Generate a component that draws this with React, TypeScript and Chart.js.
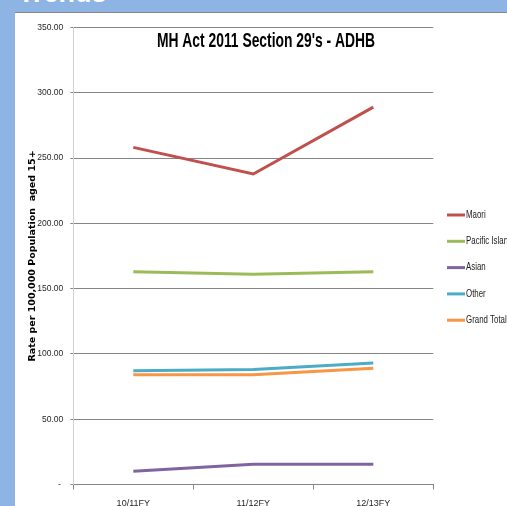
import React, { useEffect, useRef } from 'react';
import { Chart, registerables } from 'chart.js';

Chart.register(...registerables);

const categories = ['10/11FY', '11/12FY', '12/13FY'];
const seriesNames = ['Maori', 'Pacific Islan', 'Asian', 'Other', 'Grand Total'];
const maori = [258.2, 237.8, 289.0];
const pacific = [163.0, 161.0, 163.0];
const asian = [10.1, 15.5, 15.5];
const other = [87.2, 88.0, 93.1];
const grandTotal = [84.1, 84.1, 89.0];
const seriesColors = ['#C0504D', '#9BBB59', '#8064A2', '#4BACC6', '#F79646'];
const yMin = 0;
const yMax = 350;
const yStep = 50;
const chartTitle = "MH Act 2011 Section 29's - ADHB";
const yTitle = 'Rate per 100,000 Population  aged 15+';
const pageTitle = 'Trends';

const NARROW = "'Liberation Sans Narrow', 'Arial Narrow', 'Liberation Sans', Arial, sans-serif";

const overlayPlugin = {
  id: 'overlay',
  afterDraw(chart: any, _args: any, opts: any) {
    const ctx = chart.ctx as CanvasRenderingContext2D;
    ctx.save();
    // title
    ctx.font = `bold ${opts.titleSize}px ${NARROW}`;
    ctx.fillStyle = '#000000';
    ctx.textAlign = 'center';
    ctx.textBaseline = 'middle';
    ctx.save();
    ctx.translate(opts.titleX, opts.titleY);
    ctx.scale(opts.titleScaleX, 1);
    ctx.fillText(opts.title, 0, 0);
    ctx.restore();
    // legend
    ctx.font = `${opts.legendSize}px ${NARROW}`;
    ctx.textAlign = 'left';
    ctx.textBaseline = 'middle';
    chart.data.datasets.forEach((ds: any, i: number) => {
      const y = opts.legendTop + i * opts.legendGap;
      ctx.strokeStyle = ds.borderColor;
      ctx.lineWidth = 3;
      ctx.beginPath();
      ctx.moveTo(opts.legendX, y);
      ctx.lineTo(opts.legendX + opts.swatch, y);
      ctx.stroke();
      ctx.fillStyle = '#1a1a1a';
      ctx.save();
      ctx.translate(opts.legendX + opts.swatch + 1, y);
      ctx.scale(opts.legendScaleX, 1);
      ctx.fillText(ds.label, 0, 0);
      ctx.restore();
    });
    ctx.restore();
  },
};

export default function App() {
  const ref = useRef<HTMLCanvasElement | null>(null);

  useEffect(() => {
    document.body.style.margin = '0';
    const values = [maori, pacific, asian, other, grandTotal];
    const chart = new Chart(ref.current as HTMLCanvasElement, {
      type: 'line',
      data: {
        labels: categories,
        datasets: values.map((v, i) => ({
          label: seriesNames[i],
          data: v,
          borderColor: seriesColors[i],
          backgroundColor: seriesColors[i],
          borderWidth: 3,
          pointRadius: 0,
          tension: 0,
          fill: false,
        })),
      },
      plugins: [overlayPlugin],
      options: {
        responsive: false,
        animation: false,
        layout: { padding: { left: 0, top: 14.5, right: 73.7, bottom: 0 } },
        plugins: {
          legend: { display: false },
          tooltip: { enabled: false },
          title: { display: false },
          overlay: {
            title: chartTitle,
            titleSize: 21,
            titleScaleX: 0.66,
            titleX: 251,
            titleY: 28,
            legendSize: 10.5,
            legendScaleX: 0.75,
            legendX: 432,
            legendTop: 202,
            legendGap: 26.3,
            swatch: 18,
          },
        } as any,
        scales: {
          x: {
            offset: true,
            afterFit: (s: any) => { s.height = 38.5; },
            grid: {
              display: true,
              drawOnChartArea: false,
              drawTicks: true,
              tickLength: 5,
              color: '#868686',
              offset: true,
            },
            border: { display: true, color: '#868686', width: 1 },
            ticks: {
              padding: 8.5,
              color: '#262626',
              font: { family: NARROW, size: 9 },
              maxRotation: 0,
            },
          },
          y: {
            min: yMin,
            max: yMax,
            afterFit: (s: any) => { s.width = 58.3; },
            grid: {
              color: '#868686',
              drawTicks: true,
              tickLength: 3,
            },
            border: { display: true, color: '#D0D0D0', width: 1 },
            ticks: {
              stepSize: yStep,
              padding: 7,
              color: '#262626',
              font: { family: NARROW, size: 8.5 },
              callback: (v: any) => (Number(v) === 0 ? '- ' : Number(v).toFixed(2)),
            },
            title: {
              display: true,
              text: yTitle,
              color: '#000000',
              font: { family: "'DejaVu Sans', Verdana, sans-serif", size: 9.5, weight: 'bold' },
              padding: { top: 12, bottom: 0 },
            },
          },
        },
      },
    });
    return () => chart.destroy();
  }, []);

  return (
    <div style={{ position: 'fixed', left: 0, top: 0, width: 507, height: 506, background: '#8EB4E3', overflow: 'hidden' }}>
      <div
        style={{
          position: 'absolute',
          left: 18,
          top: -20,
          color: '#ffffff',
          fontFamily: "'Liberation Sans', Arial, sans-serif",
          fontWeight: 'bold',
          fontSize: 27,
          lineHeight: '27px',
          whiteSpace: 'nowrap',
        }}
      >
        {pageTitle}
      </div>
      <div
        style={{
          position: 'absolute',
          left: 15,
          top: 12,
          right: 0,
          bottom: 0,
          background: '#ffffff',
          borderTop: '1px solid #8a8a8a',
        }}
      />
      <canvas ref={ref} width={492} height={510} style={{ position: 'absolute', left: 15, top: 13, width: 492, height: 510 }} />
    </div>
  );
}
